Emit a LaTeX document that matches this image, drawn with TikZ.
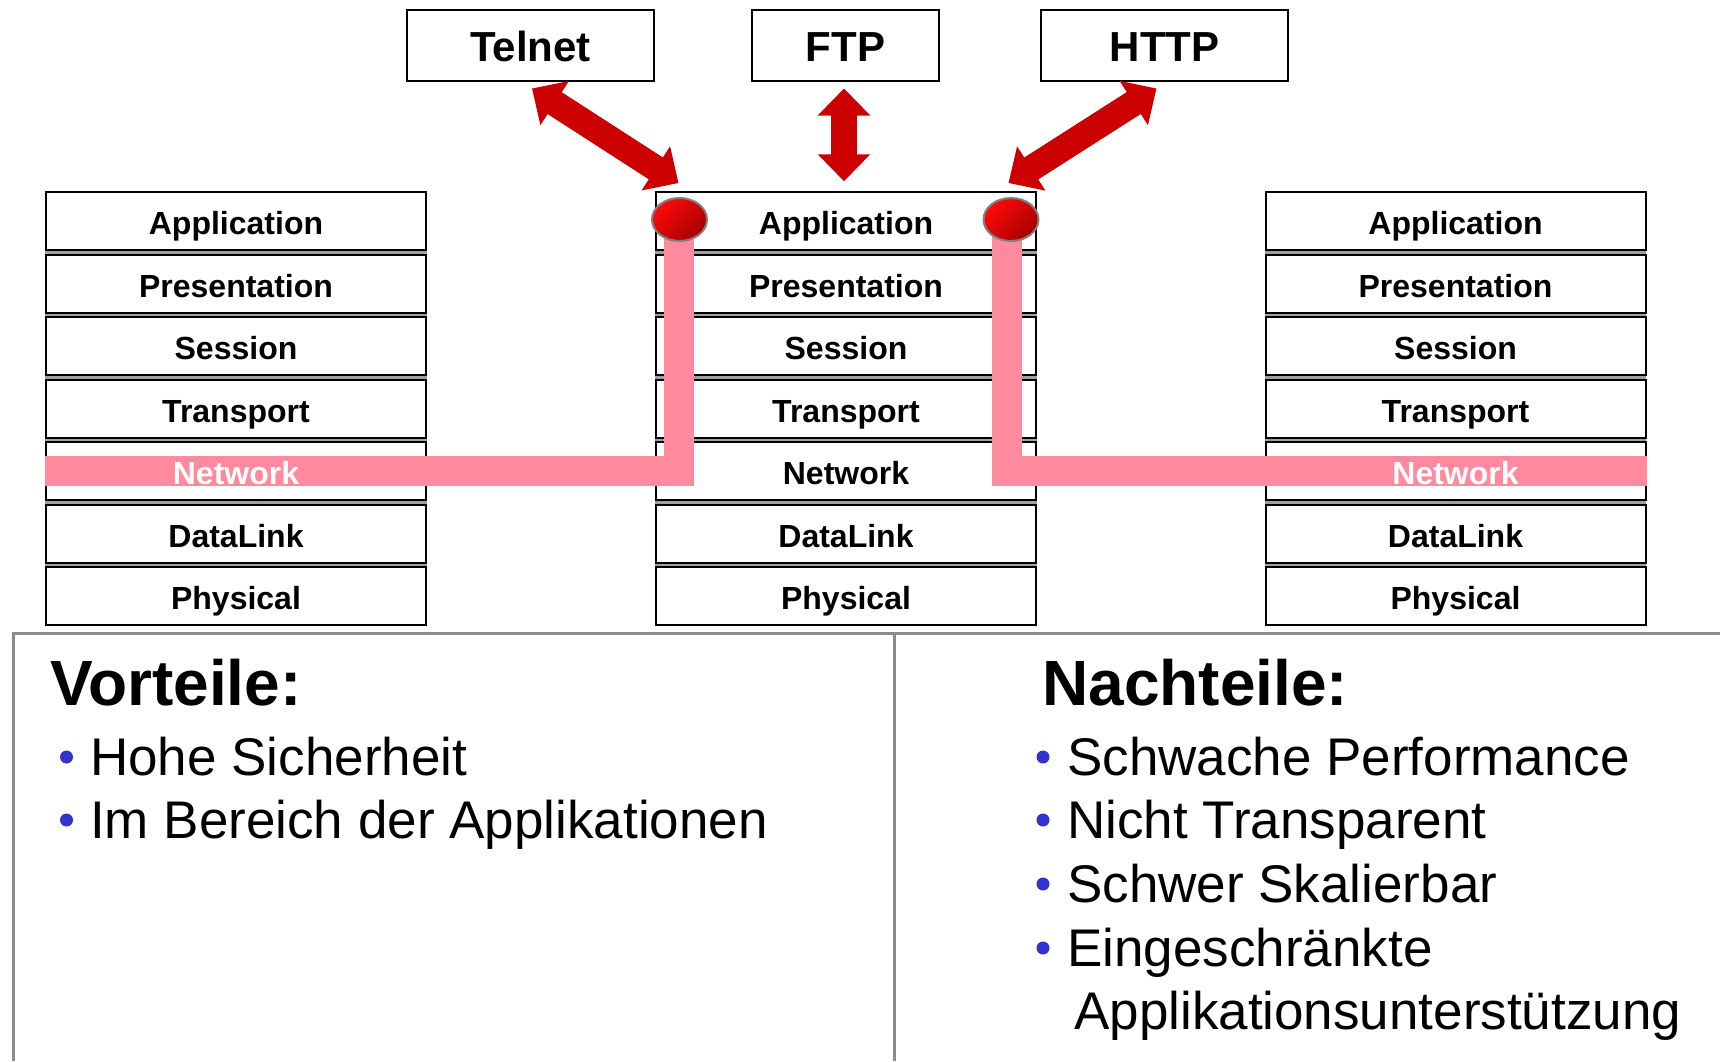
\documentclass[tikz,border=0pt]{standalone}
\usepackage{fontspec}
\setmainfont{Liberation Sans}
\usetikzlibrary{shapes.geometric,arrows.meta}
\definecolor{arrred}{RGB}{204,0,0}
\definecolor{pipepink}{RGB}{255,138,158}
\definecolor{bulletblue}{RGB}{51,51,204}
\definecolor{dotbright}{RGB}{255,10,10}
\definecolor{dotdark}{RGB}{165,0,0}
\definecolor{framegray}{RGB}{140,140,140}
\tikzset{
  protobox/.style={draw=black, line width=2pt, fill=white, inner sep=0pt,
    minimum height=71pt, text height=32pt, text depth=0pt,
    font=\fontsize{42}{48}\selectfont\bfseries},
  layerbox/.style={draw=black, line width=2pt, fill=white, inner sep=0pt,
    minimum width=380pt, minimum height=58pt, text height=27pt, text depth=0pt,
    font=\fontsize{32}{38}\selectfont\bfseries},
  layertxt/.style={inner sep=0pt, text=white, text height=27pt, text depth=0pt,
    font=\fontsize{32}{38}\selectfont\bfseries},
  stackbg/.style={fill=gray!75},
  pipe/.style={draw=pipepink, line width=30pt, line join=miter, line cap=butt},
  reddot/.style={ellipse, draw=gray, line width=2pt, minimum width=55pt, minimum height=43pt,
    inner sep=0pt, top color=dotbright, bottom color=dotdark, shading angle=45},
  bigarrow/.style={draw=arrred, line width=26pt,
    {Triangle[length=27pt,width=51pt]}-{Triangle[length=27pt,width=51pt]}},
  heading/.style={anchor=base west, inner sep=0pt, font=\fontsize{64}{70}\selectfont\bfseries},
  item/.style={anchor=base west, inner sep=0pt, font=\fontsize{53}{60}\selectfont},
  bulletdot/.style={circle, fill=bulletblue, inner sep=0pt, minimum size=13pt},
  framel/.style={draw=framegray, line width=3pt}
}
\begin{document}
\begin{tikzpicture}[x=1pt, y=-1pt]
\useasboundingbox (0,0) rectangle (1720,1061);

% protocol boxes
\node[protobox, minimum width=247pt] (telnet) at (530.5,45.5) {Telnet};
\node[protobox, minimum width=187pt] (ftp) at (845.5,45.5) {FTP};
\node[protobox, minimum width=247pt] (http) at (1164.5,45.5) {HTTP};

% stack backgrounds (grey gaps between layers)
\fill[stackbg] (45,192) rectangle (427,626);
\fill[stackbg] (655,192) rectangle (1037,626);
\fill[stackbg] (1265,192) rectangle (1646,626);

% left stack
\node[layerbox] (appL)  at (236,221.25) {Application};
\node[layerbox] (presL) at (236,283.75) {Presentation};
\node[layerbox] (sessL) at (236,346.25) {Session};
\node[layerbox] (tranL) at (236,408.75) {Transport};
\node[layerbox] (netL)  at (236,471.25) {};
\node[layerbox] (dlL)   at (236,533.75) {DataLink};
\node[layerbox] (phyL)  at (236,596.25) {Physical};

% middle stack
\node[layerbox] (appM)  at (846,221.25) {Application};
\node[layerbox] (presM) at (846,283.75) {Presentation};
\node[layerbox] (sessM) at (846,346.25) {Session};
\node[layerbox] (tranM) at (846,408.75) {Transport};
\node[layerbox] (netM)  at (846,471.25) {Network};
\node[layerbox] (dlM)   at (846,533.75) {DataLink};
\node[layerbox] (phyM)  at (846,596.25) {Physical};

% right stack
\node[layerbox] (appR)  at (1455.5,221.25) {Application};
\node[layerbox] (presR) at (1455.5,283.75) {Presentation};
\node[layerbox] (sessR) at (1455.5,346.25) {Session};
\node[layerbox] (tranR) at (1455.5,408.75) {Transport};
\node[layerbox] (netR)  at (1455.5,471.25) {};
\node[layerbox] (dlR)   at (1455.5,533.75) {DataLink};
\node[layerbox] (phyR)  at (1455.5,596.25) {Physical};

% pipes
\coordinate (dotLc) at (678.5,220);
\coordinate (dotRc) at (1006.5,220);
\draw[pipe] (dotLc) |- ([yshift=0.75pt]netL.west);
\draw[pipe] (dotRc) |- ([yshift=0.75pt]netR.east);

% white Network labels on the pipe
\node[layertxt] (netLtxt) at (netL) {Network};
\node[layertxt] (netRtxt) at (netR) {Network};

% red dots
\node[reddot] (dotL) at (679.5,219.5) {};
\node[reddot] (dotR) at (1011,219.5) {};

% arrows
\draw[bigarrow] ([xshift=1.5pt,yshift=-6.5pt]telnet.south) -- ([xshift=-1pt,yshift=36.5pt]dotL.center);
\draw[bigarrow] ([xshift=-1.5pt,yshift=-6.5pt]ftp.south) -- ([xshift=-2pt,yshift=10pt]appM.north);
\draw[bigarrow] ([xshift=-8pt,yshift=-6.5pt]http.south) -- ([xshift=-2.5pt,yshift=36.5pt]dotR.center);

% bottom frame
\draw[framel] (13,1061) -- (13,633) -- (1720,633);
\draw[framel] (894,633) -- (894,1061);

% Vorteile
\node[heading] (vort) at (50,705) {Vorteile:};
\node[bulletdot] (bv1) at (66.5,757) {};
\node[item] (v1) at (90,775) {Hohe Sicherheit};
\node[bulletdot] (bv2) at (66.5,820) {};
\node[item] (v2) at (90,838) {Im Bereich der Applikationen};

% Nachteile
\node[heading] (nach) at (1042,705) {Nachteile:};
\node[bulletdot] (bn1) at (1043,757) {};
\node[item] (n1) at (1067,775) {Schwache Performance};
\node[bulletdot] (bn2) at (1043,820) {};
\node[item] (n2) at (1067,838) {Nicht Transparent};
\node[bulletdot] (bn3) at (1043,884) {};
\node[item] (n3) at (1067,902) {Schwer Skalierbar};
\node[bulletdot] (bn4) at (1043,948) {};
\node[item] (n4) at (1067,966) {Eingeschränkte};
\node[item] (n5) at (1074,1029) {Applikationsunterstützung};
\end{tikzpicture}
\end{document}
